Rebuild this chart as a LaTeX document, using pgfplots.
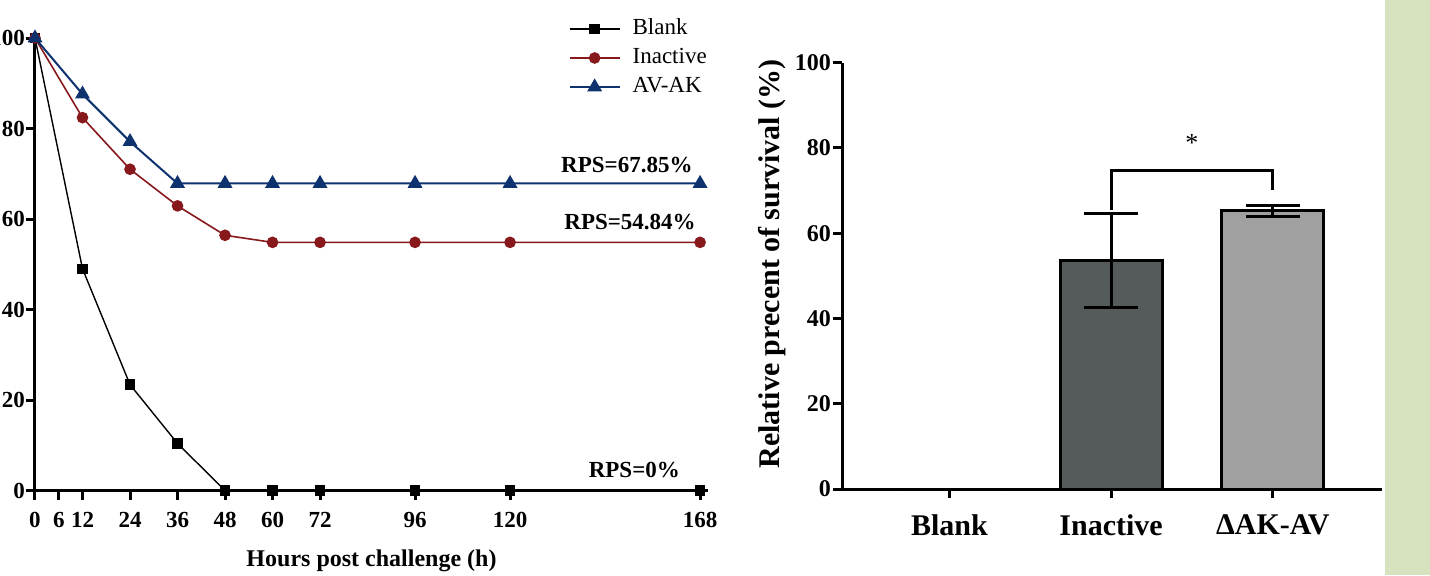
\documentclass[border=0pt]{standalone}
\usepackage{fontspec}
\setmainfont{Liberation Serif}
\usepackage{pgfplots}
\usepackage{pgfplotstable}
\pgfplotsset{compat=1.18}
\definecolor{dred}{RGB}{135,24,28}
\definecolor{dblue}{RGB}{14,50,110}
\definecolor{bardark}{RGB}{85,90,90}
\definecolor{barlight}{RGB}{160,160,160}
\definecolor{strip}{RGB}{215,227,190}

% survival over time (%)
\pgfplotstableread{
h    blank inactive avak
0    100   100      100
12   49    82.4     87.6
24   23.4  71.0     77.1
36   10.4  62.9     67.85
48   0     56.4     67.85
60   0     54.84    67.85
72   0     54.84    67.85
96   0     54.84    67.85
120  0     54.84    67.85
168  0     54.84    67.85
}\survival

\begin{document}
\begin{tikzpicture}
\path[use as bounding box, clip] (0,0) rectangle (715pt,287.5pt);
\fill[strip] (692.5pt,0) rectangle (715pt,287.5pt);

% left: survival curves
\begin{axis}[
  at={(17.5pt,42.25pt)}, anchor=south west, scale only axis,
  width=336.5pt, height=226.25pt,
  xmin=0, xmax=170, ymin=0, ymax=100,
  axis lines=left, axis line style={-, line width=1.5pt},
  xtick={0,6,12,24,36,48,60,72,96,120,168},
  ytick={0,20,40,60,80,100},
  tick align=outside, major tick length=4.5pt,
  tick style={line width=1.5pt, black},
  ticklabel style={font=\bfseries\fontsize{11.5}{12}\selectfont},
  xticklabel style={yshift=-3pt},
  yticklabel style={xshift=3pt},
  /pgf/number format/assume math mode=true,
  clip=false,
  xlabel={Hours post challenge (h)},
  xlabel style={font=\bfseries\fontsize{12}{13}\selectfont,
    at={(rel axis cs:0.5,-0.156)}, anchor=center},
  legend style={draw=none, fill=none, at={(axis cs:134.7,104.4)},
    anchor=north west, inner sep=0pt,
    font=\fontsize{11.5}{12}\selectfont,
    nodes={inner sep=0pt, text height=8pt, text depth=2.5pt},
    row sep=4pt, /tikz/every odd column/.append style={column sep=6pt}},
  legend cell align=left,
  legend image code/.code={\draw[mark repeat=2,mark phase=2]
    plot coordinates {(0pt,0pt)(12.5pt,0pt)(25pt,0pt)};},
]
\addplot[black, line width=0.7pt, mark=square*, mark size=2.25pt,
  mark options={solid, fill=black}] table[x=h, y=blank] {\survival};
\addlegendentry{Blank}
\addplot[dred, line width=0.8pt, mark=*, mark size=2.5pt,
  mark options={solid, fill=dred}] table[x=h, y=inactive] {\survival};
\addlegendentry{Inactive}
\addplot[dblue, line width=1pt, mark=triangle*, mark size=3.3pt,
  mark options={solid, fill=dblue}] table[x=h, y=avak] {\survival};
\addlegendentry{AV-AK}

\node[anchor=east, inner sep=0pt, font=\bfseries\fontsize{11.5}{12}\selectfont]
  at (axis cs:166.2,71.9) {RPS=67.85\%};
\node[anchor=east, inner sep=0pt, font=\bfseries\fontsize{11.5}{12}\selectfont]
  at (axis cs:167,59.3) {RPS=54.84\%};
\node[anchor=east, inner sep=0pt, font=\bfseries\fontsize{11.5}{12}\selectfont]
  at (axis cs:163,4.5) {RPS=0\%};
\end{axis}

% right: relative percent of survival
\begin{axis}[
  at={(421pt,43pt)}, anchor=south west, scale only axis,
  width=269.9pt, height=213.2pt,
  xmin=-0.664, xmax=2.674, ymin=0, ymax=100,
  axis lines=left, axis line style={-, line width=1.5pt},
  xtick={0,1,2}, xticklabels={Blank,Inactive,ΔAK-AV},
  ytick={0,20,40,60,80,100},
  tick align=outside, major tick length=4.5pt,
  tick style={line width=1.5pt, black},
  yticklabel style={font=\bfseries\fontsize{12}{13}\selectfont, xshift=2.5pt},
  xticklabel style={font=\bfseries\fontsize{15}{16}\selectfont, yshift=-5pt},
  /pgf/number format/assume math mode=true,
  clip=false,
  ylabel={Relative precent of survival (\%)},
  ylabel style={font=\bfseries\fontsize{15}{16}\selectfont,
    at={(rel axis cs:-0.13,0.528)}, anchor=center},
  ybar, bar width=51pt,
]
\addplot[bar shift=0pt, draw=black, fill=white, line width=1.5pt]
  coordinates {(0,0)};
\addplot[bar shift=0pt, draw=black, fill=bardark, line width=1.5pt,
  error bars/.cd, y dir=both, y explicit,
  error bar style={line width=1.5pt, black},
  error mark options={rotate=90, mark size=13.5pt, line width=1.5pt, black}]
  coordinates {(1,53.6) +- (0,11)};
\addplot[bar shift=0pt, draw=black, fill=barlight, line width=1.5pt,
  error bars/.cd, y dir=both, y explicit,
  error bar style={line width=1.5pt, black},
  error mark options={rotate=90, mark size=13.5pt, line width=1.5pt, black}]
  coordinates {(2,65.2) +- (0,1.3)};

\draw[line width=1.5pt] (axis cs:1,65.4) -- (axis cs:1,74.7)
  -- (axis cs:2,74.7) -- (axis cs:2,70.1);
\node[font=\fontsize{13}{14}\selectfont] at (axis cs:1.5,81.1) {*};
\end{axis}
\end{tikzpicture}
\end{document}
